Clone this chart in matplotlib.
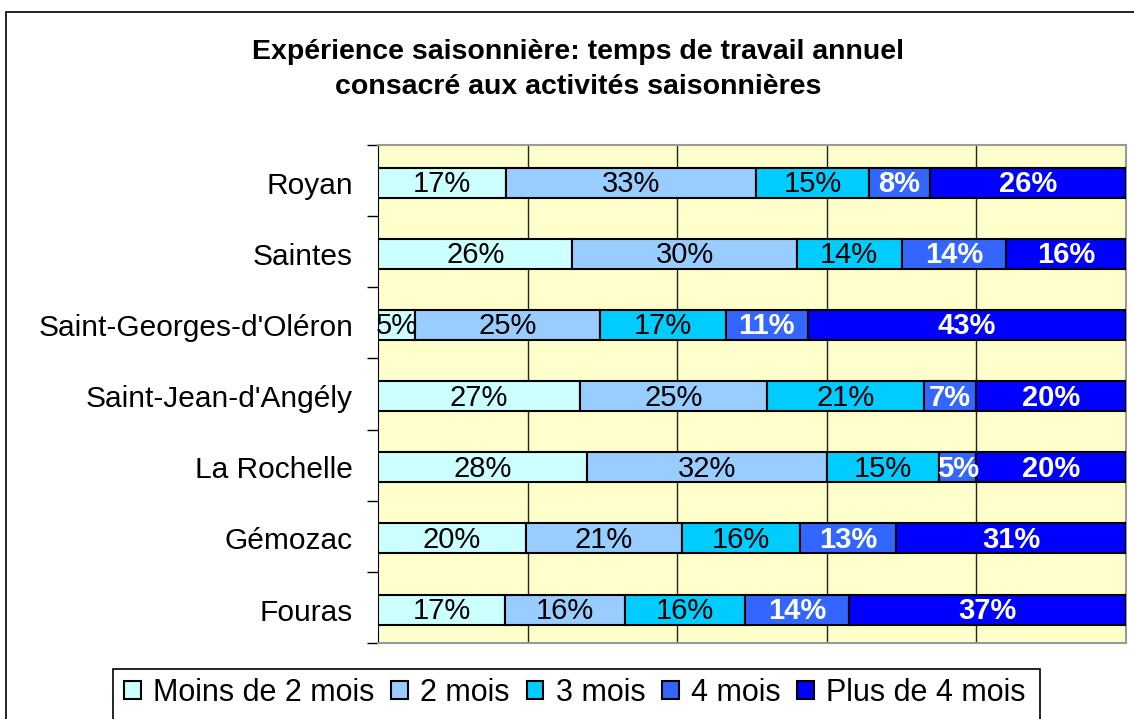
import matplotlib.pyplot as plt
import numpy as np
from matplotlib.patches import Rectangle

plt.rcParams['font.family'] = ['Liberation Sans', 'DejaVu Sans']

villes = ["Royan", "Saintes", "Saint-Georges-d'Oléron", "Saint-Jean-d'Angély",
          "La Rochelle", "Gémozac", "Fouras"]
series = ["Moins de 2 mois", "2 mois", "3 mois", "4 mois", "Plus de 4 mois"]
moins2 = [17, 26, 5, 27, 28, 20, 17]
mois2 = [33, 30, 25, 25, 32, 21, 16]
mois3 = [15, 14, 17, 21, 15, 16, 16]
mois4 = [8, 14, 11, 7, 5, 13, 14]
plus4 = [26, 16, 43, 20, 20, 31, 37]

couleurs = ["#CCFFFF", "#99CCFF", "#00CCFF", "#3366FF", "#0000FF"]
W, H = 1134, 719

fig = plt.figure(figsize=(W / 100, H / 100), dpi=100)
# cadre du graphique (coupé à droite et en bas)
fig.patches.append(Rectangle((6 / W, -0.1), 1.2, (H - 12) / H + 0.1,
                             transform=fig.transFigure, fill=False,
                             edgecolor="black", linewidth=1.2))

ax = fig.add_axes([378 / W, (H - 643) / H, 748 / W, 498 / H])
ax.set_facecolor("#FFFFCC")

data = np.array([moins2, mois2, mois3, mois4, plus4], dtype=float)
pct = data / data.sum(axis=0) * 100  # 100% empilé
y = np.arange(len(villes))[::-1] - 0.03

gauche = np.zeros(len(villes))
for i, nom in enumerate(series):
    bars = ax.barh(y, pct[i], left=gauche, height=0.42, color=couleurs[i],
                   edgecolor="black", linewidth=1.5, label=nom, zorder=3)
    blanc = i >= 3
    for b, v in zip(bars, data[i]):
        ax.text(b.get_x() + b.get_width() / 2, b.get_y() + b.get_height() / 2 - 0.02,
                f"{int(v)}%", ha="center", va="center", fontsize=21,
                color="white" if blanc else "black",
                fontweight="bold" if blanc else "normal", zorder=4)
    gauche += pct[i]

ax.set_xlim(0, 100)
ax.set_ylim(-0.5, len(villes) - 0.5)
for xg in [20, 40, 60, 80]:
    ax.axvline(xg, color="#222222", linewidth=1, zorder=1)
ax.set_xticks([])
ax.set_yticks(y)
ax.set_yticklabels(villes, fontsize=21.5)
ax.set_yticks(np.arange(len(villes) + 1) - 0.5, minor=True)
ax.tick_params(axis="y", which="major", length=0, pad=18)
ax.tick_params(axis="y", which="minor", length=8, width=1, direction="out")
for s in ["top", "right", "bottom"]:
    ax.spines[s].set_color("#999999")
    ax.spines[s].set_linewidth(1.5)
ax.spines["left"].set_color("black")

fig.text(578 / W, 1 - 52 / H, "Expérience saisonnière: temps de travail annuel",
         ha="center", va="center", fontsize=20.5, fontweight="bold")
fig.text(578 / W, 1 - 87 / H, "consacré aux activités saisonnières",
         ha="center", va="center", fontsize=20.5, fontweight="bold")

# légende : cadre dessiné à part, coupé en bas comme l'original
fig.patches.append(Rectangle((113 / W, -0.05), (1040 - 113) / W, (H - 669) / H + 0.05,
                             transform=fig.transFigure, fill=False,
                             edgecolor="black", linewidth=1.2))
leg = fig.legend(loc="center", bbox_to_anchor=(575 / W, 1 - 693 / H), ncol=5,
                 fontsize=22, frameon=False,
                 handlelength=0.55, handleheight=0.55, handletextpad=0.4,
                 columnspacing=0.55, borderpad=0.2)

fig.savefig("out.png", dpi=100)
